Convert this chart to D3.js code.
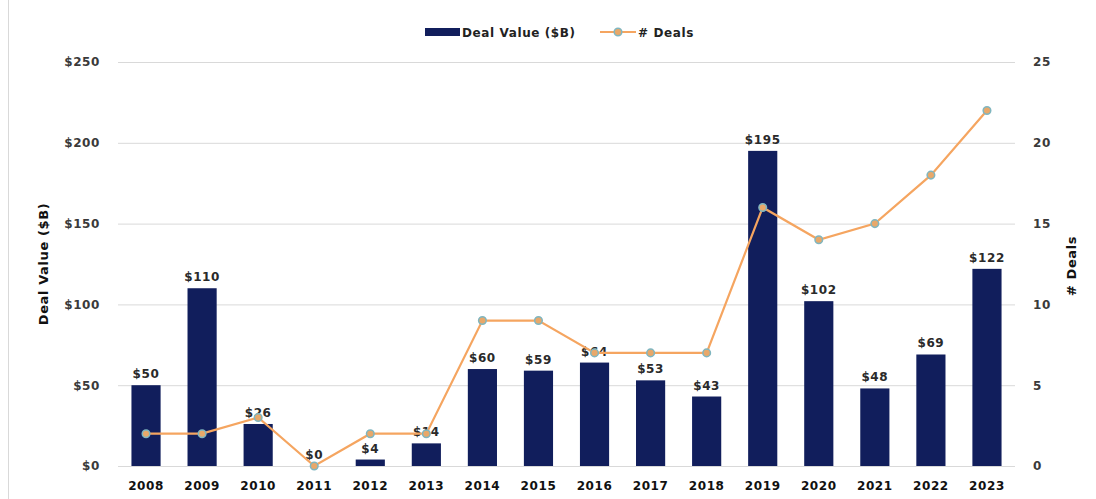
<!DOCTYPE html>
<html>
<head>
<meta charset="utf-8">
<script src="https://cdn.jsdelivr.net/npm/d3@7"></script>
<style>
  body { margin: 0; background: #fff; }
  svg text { font-family: "DejaVu Sans", "Liberation Sans", sans-serif; letter-spacing: 0.6px; }
</style>
</head>
<body>
<div id="chart"></div>
<script>
const years = ["2008","2009","2010","2011","2012","2013","2014","2015","2016","2017","2018","2019","2020","2021","2022","2023"]
const dealValue = [50, 110, 26, 0, 4, 14, 60, 59, 64, 53, 43, 195, 102, 48, 69, 122]
const dealCount = [2, 2, 3, 0, 2, 2, 9, 9, 7, 7, 7, 16, 14, 15, 18, 22]
const leftTicks = [0, 50, 100, 150, 200, 250]
const rightTicks = [0, 5, 10, 15, 20, 25]

let width = 1096
let height = 499
let mLeft = 118, mRight = 1015, mTop = 62, mBottom = 466

let navy = "#111e5c"
let orange = "#f5a560"
let teal = "#7fb6c0"
let grid = "#d9d9d9"
let tickColor = "#3a3a3a"

let svg = d3.select("#chart").append("svg")
  .attr("width", width).attr("height", height)

// frame
svg.append("line").attr("x1", 8.5).attr("x2", 8.5).attr("y1", 0).attr("y2", height)
  .attr("stroke", "#d9d9d9")

let x = d3.scaleBand().domain(years).range([mLeft, mRight]).paddingInner(0.48).paddingOuter(0.24)
let yL = d3.scaleLinear().domain([0, 250]).range([mBottom, mTop])
let yR = d3.scaleLinear().domain([0, 25]).range([mBottom, mTop])

// gridlines
svg.append("g").selectAll("line").data(leftTicks).join("line")
  .attr("x1", mLeft).attr("x2", mRight)
  .attr("y1", d => yL(d) + 0.5).attr("y2", d => yL(d) + 0.5)
  .attr("stroke", grid).attr("stroke-width", 1)

// left axis
let axL = svg.append("g").attr("transform", `translate(${mLeft},0)`)
  .call(d3.axisLeft(yL).tickValues(leftTicks).tickSize(0).tickPadding(18).tickFormat(d => `$${d}`))
axL.select(".domain").remove()
axL.selectAll("text").attr("fill", tickColor).attr("font-size", 12).attr("font-weight", 700)

// right axis
let axR = svg.append("g").attr("transform", `translate(${mRight},0)`)
  .call(d3.axisRight(yR).tickValues(rightTicks).tickSize(0).tickPadding(18))
axR.select(".domain").remove()
axR.selectAll("text").attr("fill", tickColor).attr("font-size", 12).attr("font-weight", 700)

// bottom axis
let axB = svg.append("g").attr("transform", `translate(0,${mBottom})`)
  .call(d3.axisBottom(x).tickSize(0).tickPadding(15))
axB.select(".domain").remove()
axB.selectAll("text").attr("fill", "#111").attr("font-size", 12).attr("font-weight", 700)

// bars
svg.append("g").selectAll("rect").data(years).join("rect")
  .attr("x", d => x(d))
  .attr("y", (d, i) => yL(dealValue[i]))
  .attr("width", x.bandwidth())
  .attr("height", (d, i) => yL(0) - yL(dealValue[i]))
  .attr("fill", navy)

// bar labels
svg.append("g").selectAll("text").data(years).join("text")
  .attr("x", d => x(d) + x.bandwidth() / 2)
  .attr("y", (d, i) => yL(dealValue[i]) - 7)
  .attr("text-anchor", "middle")
  .attr("font-size", 12).attr("font-weight", 700).attr("fill", "#2a2a2a")
  .text((d, i) => `$${dealValue[i]}`)

// deals line
let line = d3.line()
  .x((d, i) => x(years[i]) + x.bandwidth() / 2)
  .y(d => yR(d))
svg.append("path").datum(dealCount)
  .attr("d", line).attr("fill", "none")
  .attr("stroke", orange).attr("stroke-width", 2.2)

svg.append("g").selectAll("circle").data(dealCount).join("circle")
  .attr("cx", (d, i) => x(years[i]) + x.bandwidth() / 2)
  .attr("cy", d => yR(d))
  .attr("r", 3.8)
  .attr("fill", "#e8a86a").attr("stroke", teal).attr("stroke-width", 1.5)

// axis titles
svg.append("text")
  .attr("transform", `translate(48,${(mTop + mBottom) / 2}) rotate(-90)`)
  .attr("text-anchor", "middle")
  .attr("font-size", 13).attr("font-weight", 700).attr("fill", "#111")
  .attr("letter-spacing", 0)
  .text("Deal Value ($B)")

svg.append("text")
  .attr("transform", `translate(1076,${(mTop + mBottom) / 2 + 2}) rotate(-90)`)
  .attr("text-anchor", "middle")
  .attr("font-size", 13).attr("font-weight", 700).attr("fill", "#111")
  .attr("letter-spacing", 0)
  .text("# Deals")

// legend
let lg = svg.append("g").attr("transform", "translate(425,32)")
lg.append("rect").attr("x", 0).attr("y", -4).attr("width", 35).attr("height", 8).attr("fill", navy)
lg.append("text").attr("x", 37).attr("y", 4.5)
  .attr("font-size", 12).attr("font-weight", 700).attr("fill", "#222")
  .text("Deal Value ($B)")
lg.append("line").attr("x1", 175).attr("x2", 211).attr("y1", 0).attr("y2", 0)
  .attr("stroke", orange).attr("stroke-width", 2.2)
lg.append("circle").attr("cx", 193).attr("cy", 0).attr("r", 3.8)
  .attr("fill", "#e8a86a").attr("stroke", teal).attr("stroke-width", 1.5)
lg.append("text").attr("x", 213).attr("y", 4.5)
  .attr("font-size", 12).attr("font-weight", 700).attr("fill", "#222")
  .text("# Deals")
</script>
</body>
</html>
